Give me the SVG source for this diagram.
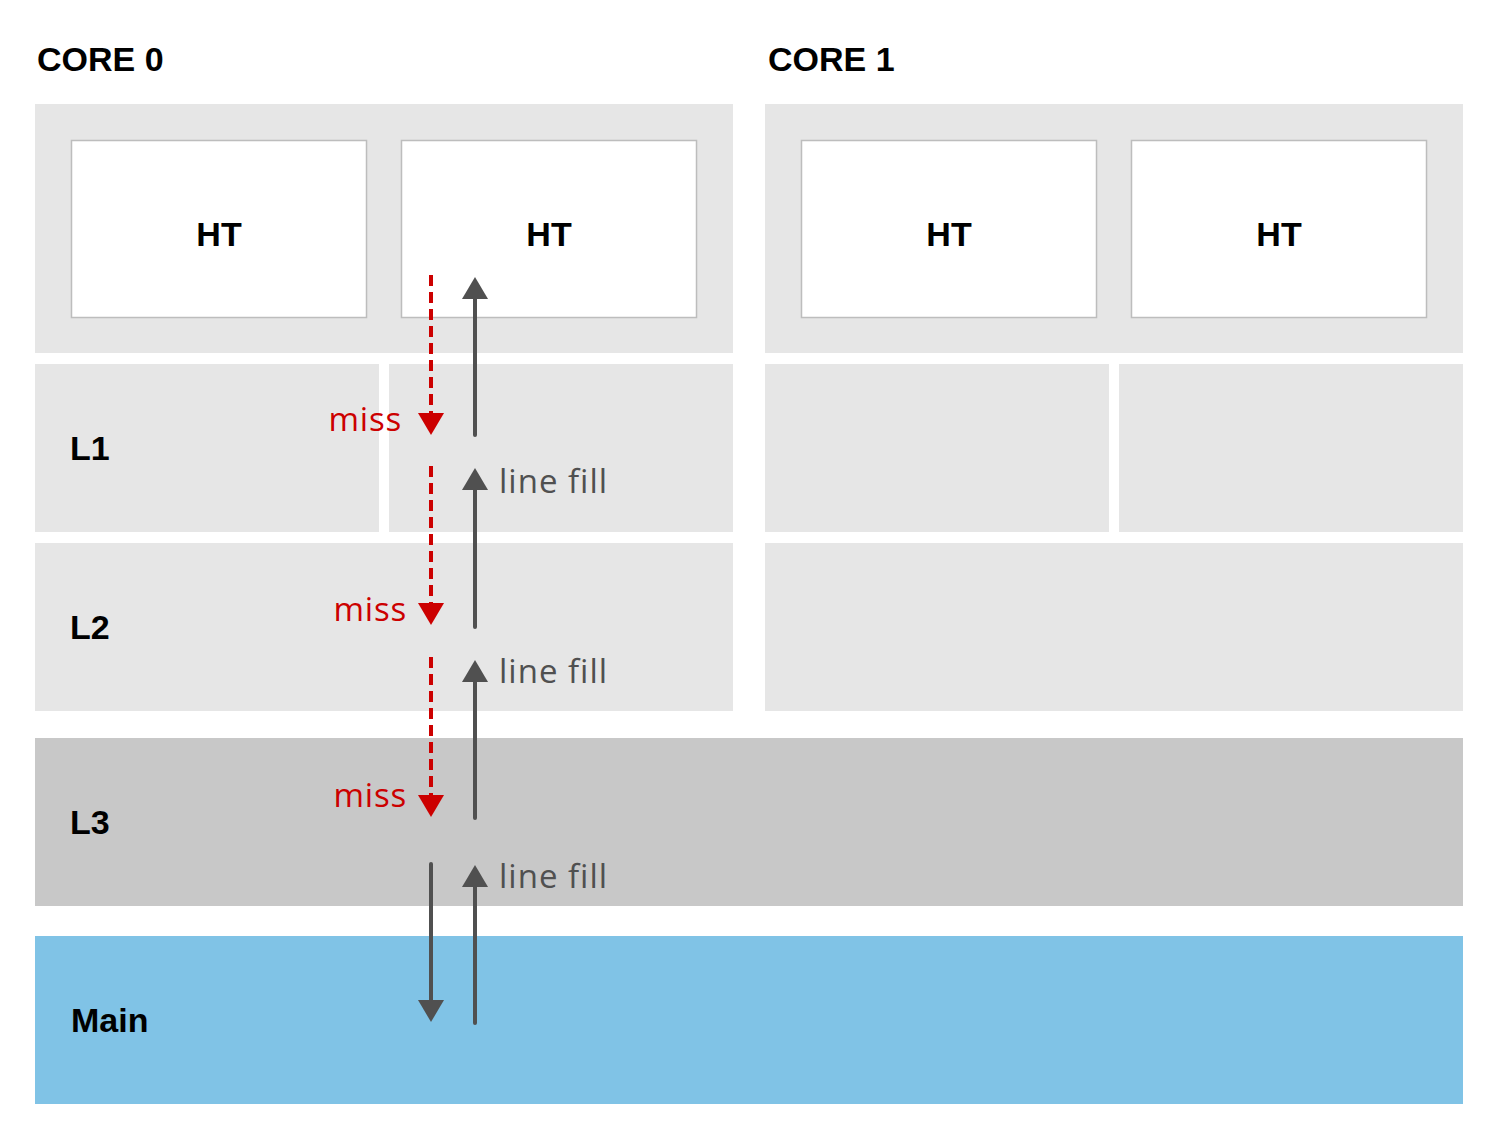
<svg xmlns="http://www.w3.org/2000/svg" width="1497" height="1146" viewBox="0 0 1497 1146">
<style>
.blk{fill:#e6e6e6}
.ht{fill:#ffffff;stroke:#bdbdbd;stroke-width:1.5}
.lbl{font-family:"Liberation Sans",Arial,sans-serif;font-weight:bold;font-size:34px;fill:#000}
.miss{font-family:"Open Sans","Liberation Sans",sans-serif;font-size:33px;letter-spacing:0.8px;fill:#cc0000}
.fill{font-family:"Open Sans","Liberation Sans",sans-serif;font-size:33px;letter-spacing:1px;fill:#505050}
.red{stroke:#cc0000;stroke-width:4;stroke-dasharray:11 6;fill:none}
.gry{stroke:#505050;stroke-width:4;fill:none;stroke-linecap:round}
</style>
<rect width="1497" height="1146" fill="#fff"/>
<g id="core0">
<text class="lbl" x="37" y="71">CORE 0</text>
<rect class="blk" x="35" y="104" width="698" height="249"/>
</g>
<g id="core1">
<text class="lbl" x="768" y="71">CORE 1</text>
<rect class="blk" x="765" y="104" width="698" height="249"/>
</g>
<g id="ht0a"><rect class="ht" x="71.5" y="140.5" width="295" height="177"/><text class="lbl" x="219" y="246" text-anchor="middle">HT</text></g>
<g id="ht0b"><rect class="ht" x="401.5" y="140.5" width="295" height="177"/><text class="lbl" x="549" y="246" text-anchor="middle">HT</text></g>
<g id="ht1a"><rect class="ht" x="801.5" y="140.5" width="295" height="177"/><text class="lbl" x="949" y="246" text-anchor="middle">HT</text></g>
<g id="ht1b"><rect class="ht" x="1131.5" y="140.5" width="295" height="177"/><text class="lbl" x="1279" y="246" text-anchor="middle">HT</text></g>
<g id="l1">
<rect class="blk" x="35" y="364" width="344" height="168"/>
<rect class="blk" x="389" y="364" width="344" height="168"/>
<rect class="blk" x="765" y="364" width="344" height="168"/>
<rect class="blk" x="1119" y="364" width="344" height="168"/>
<text class="lbl" x="70" y="460">L1</text>
</g>
<g id="l2">
<rect class="blk" x="35" y="543" width="698" height="168"/>
<rect class="blk" x="765" y="543" width="698" height="168"/>
<text class="lbl" x="70" y="639">L2</text>
</g>
<g id="l3">
<rect x="35" y="738" width="1428" height="168" fill="#c8c8c8"/>
<text class="lbl" x="70" y="834">L3</text>
</g>
<g id="main">
<rect x="35" y="936" width="1428" height="168" fill="#80c3e6"/>
<text class="lbl" x="71" y="1032">Main</text>
</g>
<g id="connectors">
<line class="red" x1="431" y1="275" x2="431" y2="418"/>
<path d="M418,413 L444,413 L431,435 Z" fill="#cc0000"/>
<line class="red" x1="431" y1="466" x2="431" y2="608"/>
<path d="M418,603 L444,603 L431,625 Z" fill="#cc0000"/>
<line class="red" x1="431" y1="657" x2="431" y2="800"/>
<path d="M418,795 L444,795 L431,817 Z" fill="#cc0000"/>
<line class="gry" x1="475" y1="295" x2="475" y2="435"/>
<path d="M462,299 L488,299 L475,277 Z" fill="#505050"/>
<line class="gry" x1="475" y1="485" x2="475" y2="627"/>
<path d="M462,490 L488,490 L475,468 Z" fill="#505050"/>
<line class="gry" x1="475" y1="678" x2="475" y2="818"/>
<path d="M462,682 L488,682 L475,660 Z" fill="#505050"/>
<line class="gry" x1="475" y1="883" x2="475" y2="1023"/>
<path d="M462,887 L488,887 L475,865 Z" fill="#505050"/>
<line class="gry" x1="431" y1="864" x2="431" y2="1005"/>
<path d="M418,1000 L444,1000 L431,1022 Z" fill="#505050"/>
<text class="miss" x="402" y="431" text-anchor="end">miss</text>
<text class="miss" x="407" y="621" text-anchor="end">miss</text>
<text class="miss" x="407" y="807" text-anchor="end">miss</text>
<text class="fill" x="499" y="493">line fill</text>
<text class="fill" x="499" y="683">line fill</text>
<text class="fill" x="499" y="888">line fill</text>
</g>
</svg>
